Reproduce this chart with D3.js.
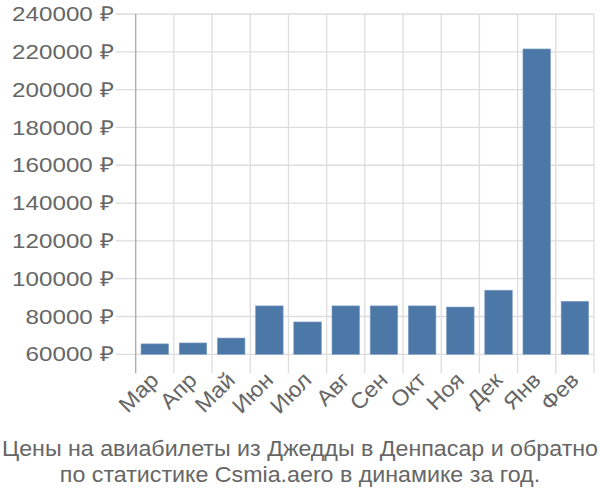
<!DOCTYPE html>
<html><head><meta charset="utf-8">
<script src="https://cdn.jsdelivr.net/npm/d3@7"></script>
<style>body{margin:0;background:#fff;} text{font-family:"Liberation Sans",Arial,sans-serif;}</style>
</head><body>
<svg id="c" width="600" height="500"></svg>
<script>
const months = ["Мар","Апр","Май","Июн","Июл","Авг","Сен","Окт","Ноя","Дек","Янв","Фев"];
const prices = [65500, 66000, 68600, 85600, 77100, 85600, 85600, 85600, 85000, 93900, 221500, 88000];
const yTicks = [60000, 80000, 100000, 120000, 140000, 160000, 180000, 200000, 220000, 240000];
const titleLines = ["Цены на авиабилеты из Джедды в Денпасар и обратно", "по статистике Csmia.aero в динамике за год."];

const svg = d3.select("#c");
const m = {l:135.7, r:6, t:14, b:145.7};
const W = 600, H = 500;
const x = d3.scaleBand().domain(months).range([m.l, W - m.r]).paddingInner(0.28).paddingOuter(0.14);
const y = d3.scaleLinear().domain([60000, 240000]).range([H - m.b, m.t]);
const grid = "#dddddd", txt = "#666666";

function stretch(sel, f) {
  sel.each(function() {
    const w = this.getComputedTextLength();
    d3.select(this).attr("textLength", w * f).attr("lengthAdjust", "spacingAndGlyphs");
  });
}

// horizontal grid + left ticks
svg.append("g").selectAll("line").data(yTicks).join("line")
  .attr("x1", m.l - 20).attr("x2", W - m.r)
  .attr("y1", d => y(d)).attr("y2", d => y(d))
  .attr("stroke", grid).attr("stroke-width", 1.3);
// vertical grid (band boundaries)
const step = x.step();
const bounds = d3.range(months.length + 1).map(i => m.l + i * step);
svg.append("g").selectAll("line").data(bounds.slice(1)).join("line")
  .attr("x1", d => d).attr("x2", d => d)
  .attr("y1", m.t).attr("y2", H - m.b + 19)
  .attr("stroke", grid).attr("stroke-width", 1.3);
// y axis line
svg.append("line").attr("x1", m.l).attr("x2", m.l).attr("y1", m.t).attr("y2", H - m.b + 19)
  .attr("stroke", "#aaaaaa").attr("stroke-width", 1.3);

// y labels
svg.append("g").selectAll("text").data(yTicks).join("text")
  .attr("x", m.l - 22).attr("y", d => y(d)).attr("dy", "0.35em")
  .attr("text-anchor", "end").attr("fill", txt).attr("font-size", 20.5)
  .text(d => d + " ₽")
  .call(stretch, 1.18);

// bars
svg.append("g").selectAll("rect").data(prices).join("rect")
  .attr("x", (d, i) => x(months[i])).attr("width", x.bandwidth())
  .attr("y", d => y(d)).attr("height", d => y(60000) - y(d))
  .attr("fill", "#4c78a8").attr("stroke", "#7d9cc3").attr("stroke-width", 0.6);

// x labels
svg.append("g").selectAll("text").data(months).join("text")
  .attr("transform", d => `translate(${x(d) + x.bandwidth()/2 - 6},${H - m.b + 16}) rotate(-45)`)
  .attr("text-anchor", "end").attr("dy", "0.72em").attr("fill", txt).attr("font-size", 22)
  .text(d => d)
  .call(stretch, 1.06);

// title
svg.append("g").selectAll("text").data(titleLines).join("text")
  .attr("x", 300).attr("y", (d, i) => 456 + i * 26)
  .attr("text-anchor", "middle").attr("fill", txt).attr("font-size", 21.5)
  .text(d => d)
  .call(stretch, 1.08);
</script>
</body></html>
